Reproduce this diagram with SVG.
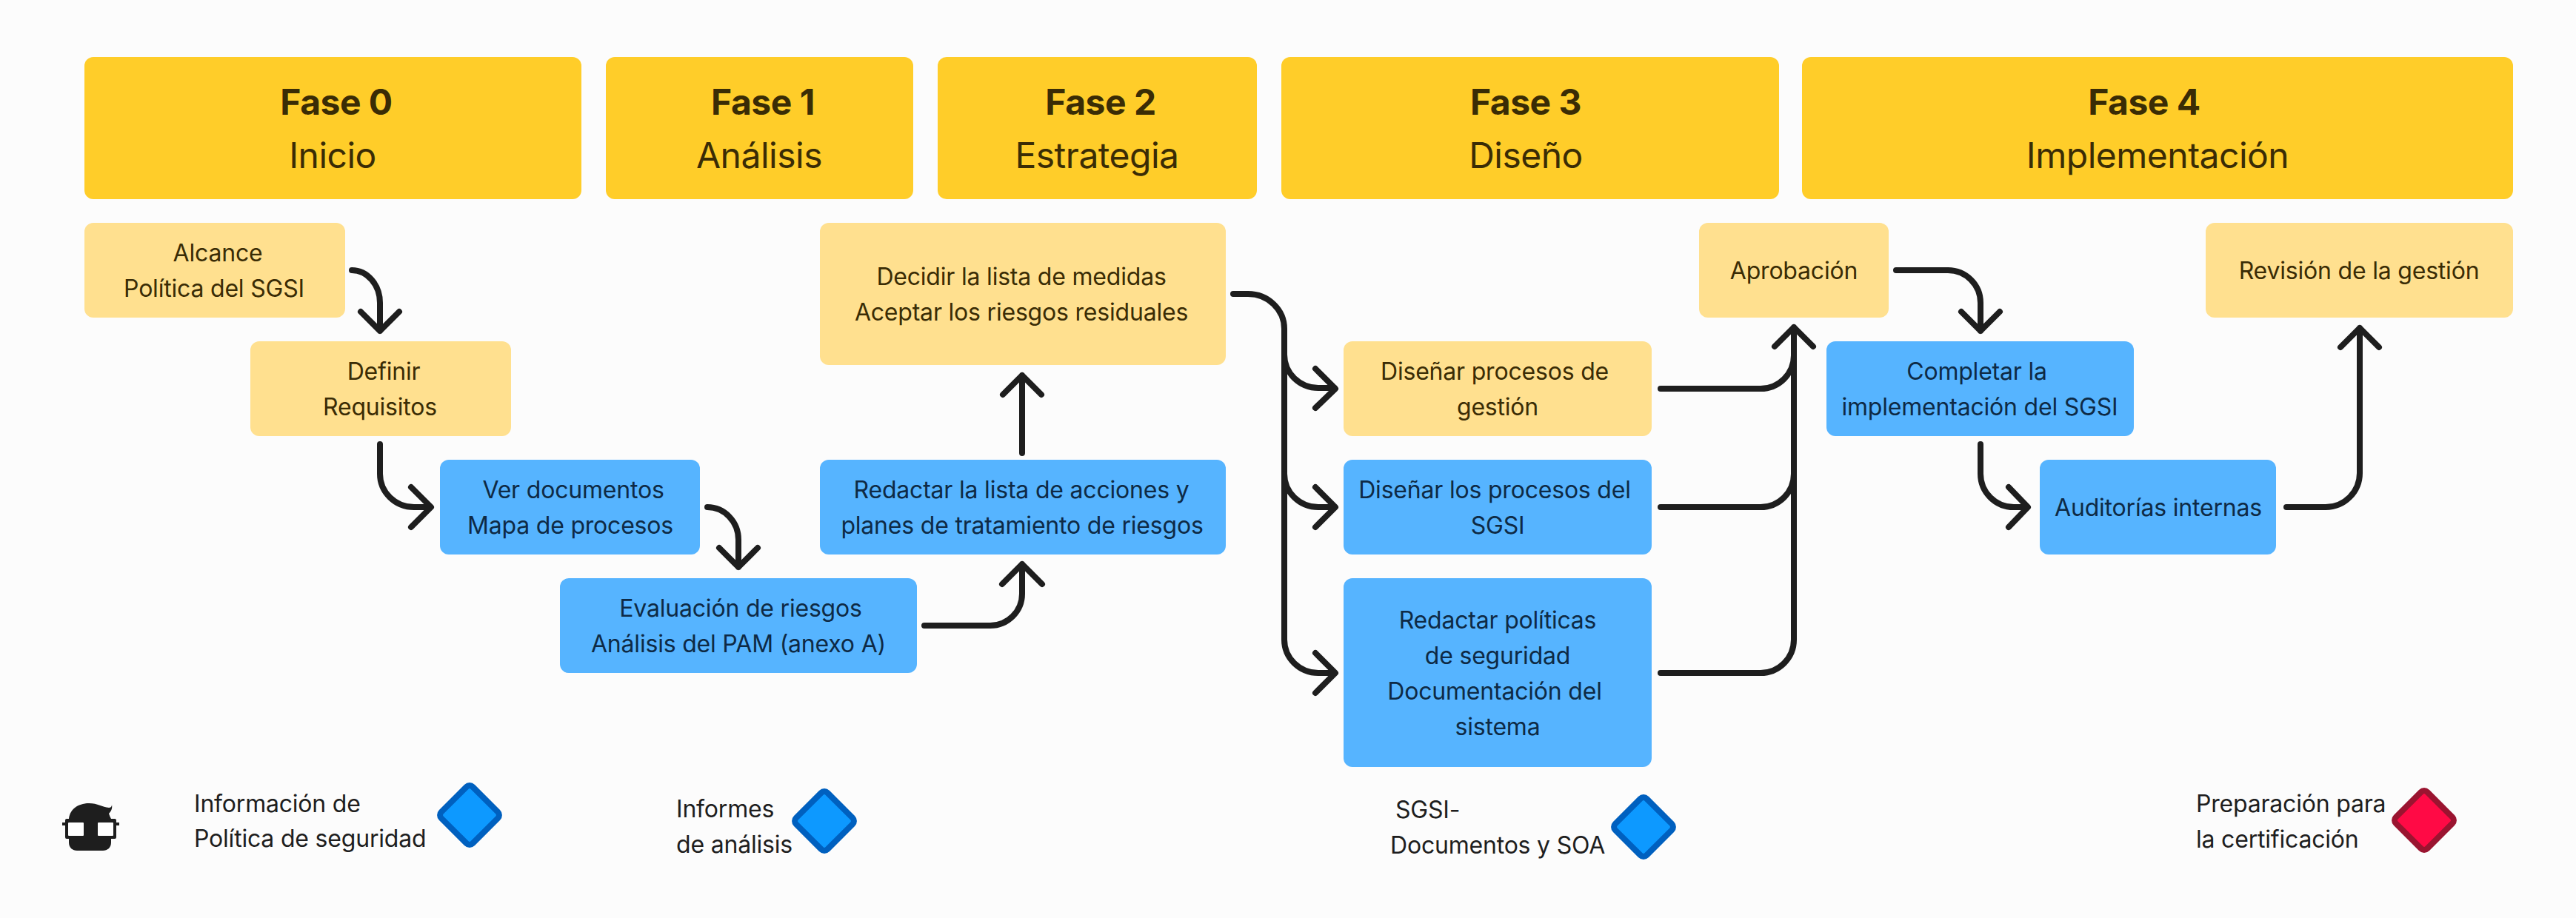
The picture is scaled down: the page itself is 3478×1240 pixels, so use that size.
<svg xmlns="http://www.w3.org/2000/svg" width="3478" height="1240" viewBox="0 0 3478 1240">
<style>
text{font-family:Inter,"Noto Sans","Liberation Sans",sans-serif}
.h{fill:#ffcd29}.y{fill:#ffe08f}.b{fill:#56b4ff}
.t1,.t2{font-size:48px;text-anchor:middle;fill:#3a2c05;letter-spacing:-.5px}.t1{font-weight:700}
.ty,.tb{font-size:32px;text-anchor:middle;letter-spacing:-.2px}.ty{fill:#3a2c05}.tb{fill:#0e2a45}
.l{font-size:32px;fill:#1e1e1e;letter-spacing:-.2px}
.c{fill:none;stroke:#1e1e1e;stroke-width:8;stroke-linecap:round;stroke-linejoin:round}
.db{fill:#0d99ff;stroke:#0060bf;stroke-width:8}.dr{fill:#ff0a45;stroke:#9a1430;stroke-width:8}
</style>
<defs><rect id="dia" x="-30" y="-30" width="60" height="60" rx="6" transform="rotate(45)"/></defs>
<rect width="3478" height="1240" fill="#fcfcfc"/>
<g id="fase0"><rect class="h" x="114" y="77" width="671" height="192" rx="12"/><text class="t1" x="454" y="155">Fase 0</text><text class="t2" x="449" y="227">Inicio</text></g>
<g id="fase1"><rect class="h" x="818" y="77" width="415" height="192" rx="12"/><text class="t1" x="1030" y="155">Fase 1</text><text class="t2" x="1025" y="227">Análisis</text></g>
<g id="fase2"><rect class="h" x="1266" y="77" width="431" height="192" rx="12"/><text class="t1" x="1486" y="155">Fase 2</text><text class="t2" x="1481" y="227">Estrategia</text></g>
<g id="fase3"><rect class="h" x="1730" y="77" width="672" height="192" rx="12"/><text class="t1" x="2060" y="155">Fase 3</text><text class="t2" x="2060" y="227">Diseño</text></g>
<g id="fase4"><rect class="h" x="2433" y="77" width="960" height="192" rx="12"/><text class="t1" x="2895" y="155">Fase 4</text><text class="t2" x="2913" y="227">Implementación</text></g>
<g id="alcance"><rect class="y" x="114" y="301" width="352" height="128" rx="12"/><text class="ty" x="294" y="353">Alcance</text><text class="ty" x="289" y="401">Política del SGSI</text></g>
<g id="definir"><rect class="y" x="338" y="461" width="352" height="128" rx="12"/><text class="ty" x="518" y="513">Definir</text><text class="ty" x="513" y="561">Requisitos</text></g>
<g id="ver"><rect class="b" x="594" y="621" width="351" height="128" rx="12"/><text class="tb" x="774" y="673">Ver documentos</text><text class="tb" x="770" y="721">Mapa de procesos</text></g>
<g id="evaluacion"><rect class="b" x="756" y="781" width="482" height="128" rx="12"/><text class="tb" x="1000" y="833">Evaluación de riesgos</text><text class="tb" x="997" y="881">Análisis del PAM (anexo A)</text></g>
<g id="redactar"><rect class="b" x="1107" y="621" width="548" height="128" rx="12"/><text class="tb" x="1379" y="673">Redactar la lista de acciones y</text><text class="tb" x="1380" y="721">planes de tratamiento de riesgos</text></g>
<g id="decidir"><rect class="y" x="1107" y="301" width="548" height="192" rx="12"/><text class="ty" x="1379" y="385">Decidir la lista de medidas</text><text class="ty" x="1379" y="433">Aceptar los riesgos residuales</text></g>
<g id="disenar1"><rect class="y" x="1814" y="461" width="416" height="128" rx="12"/><text class="ty" x="2018" y="513">Diseñar procesos de</text><text class="ty" x="2022" y="561">gestión</text></g>
<g id="disenar2"><rect class="b" x="1814" y="621" width="416" height="128" rx="12"/><text class="tb" x="2018" y="673">Diseñar los procesos del</text><text class="tb" x="2022" y="721">SGSI</text></g>
<g id="politicas"><rect class="b" x="1814" y="781" width="416" height="255" rx="12"/><text class="tb" x="2022" y="849">Redactar políticas</text><text class="tb" x="2022" y="897">de seguridad</text><text class="tb" x="2018" y="945">Documentación del</text><text class="tb" x="2022" y="993">sistema</text></g>
<g id="aprobacion"><rect class="y" x="2294" y="301" width="256" height="128" rx="12"/><text class="ty" x="2422" y="377">Aprobación</text></g>
<g id="completar"><rect class="b" x="2466" y="461" width="415" height="128" rx="12"/><text class="tb" x="2669" y="513">Completar la</text><text class="tb" x="2673" y="561">implementación del SGSI</text></g>
<g id="auditorias"><rect class="b" x="2754" y="621" width="319" height="128" rx="12"/><text class="tb" x="2914" y="697">Auditorías internas</text></g>
<g id="revision"><rect class="y" x="2978" y="301" width="415" height="128" rx="12"/><text class="ty" x="3185" y="377">Revisión de la gestión</text></g>
<g id="connectors">
<path class="c" d="M475 365A38 44 0 0 1 513 409V447M487 421L513 447L539 421"/>
<path class="c" d="M513 600V640A46 45 0 0 0 559 685H581M555 658L582 685L555 712"/>
<path class="c" d="M955 685A42 44 0 0 1 997 729V766M971 740L997 766L1023 740"/>
<path class="c" d="M1248 845H1337A43 43 0 0 0 1380 802V762M1353 789L1380 762L1407 789"/>
<path class="c" d="M1380 612V507M1354 533L1380 507L1406 533"/>
<path class="c" d="M1665 397H1685A49 47 0 0 1 1734 444V864A46 45 0 0 0 1780 909H1802M1776 882L1803 909L1776 936"/>
<path class="c" d="M1734 479A46 45 0 0 0 1780 524H1802M1776 498L1803 525L1776 551"/>
<path class="c" d="M1734 640A46 45 0 0 0 1780 685H1802M1776 658L1803 685L1776 712"/>
<path class="c" d="M2242 525H2377A45 45 0 0 0 2422 480M2242 685H2377A45 45 0 0 0 2422 640M2242 909H2377A45 45 0 0 0 2422 864V442M2396 468L2422 442L2448 468"/>
<path class="c" d="M2560 365H2630A44 44 0 0 1 2674 409V447M2648 421L2674 447L2700 421"/>
<path class="c" d="M2674 600V640A45 45 0 0 0 2719 685H2737M2712 658L2738 685L2712 712"/>
<path class="c" d="M3087 685H3140A46 46 0 0 0 3186 639V443M3160 469L3186 443L3212 469"/>
</g>
<g id="legend1"><text class="l" x="262" y="1097">Información de</text><text class="l" x="262" y="1144">Política de seguridad</text><use href="#dia" class="db" x="634" y="1101"/></g>
<g id="legend2"><text class="l" x="913" y="1104">Informes</text><text class="l" x="913" y="1152">de análisis</text><use href="#dia" class="db" x="1113" y="1109"/></g>
<g id="legend3"><text class="l" x="1884" y="1105">SGSI-</text><text class="l" x="1877" y="1153">Documentos y SOA</text><use href="#dia" class="db" x="2219" y="1117"/></g>
<g id="legend4"><text class="l" x="2965" y="1097">Preparación para</text><text class="l" x="2965" y="1145">la certificación</text><use href="#dia" class="dr" x="3273" y="1108"/></g>
<g id="logo">
<path fill="#1e1e1e" d="M93 1108C93 1094 105 1085 120 1085C132 1085 138 1090 147 1091C150 1091 151 1089 151 1087C152 1092 150 1096 147 1099C148 1102 149 1104 150 1106V1138C150 1145 145 1149 139 1149H104C98 1149 93 1145 93 1138Z"/>
<path fill="#1e1e1e" d="M88 1108Q88 1106 90 1106H155Q157 1106 157 1108V1111H161V1115H157V1131Q157 1133 155 1133H90Q88 1133 88 1131V1115H84V1111H88Z"/>
<rect x="92" y="1111" width="21" height="18" rx="1" fill="#fff"/><rect x="132" y="1111" width="21" height="18" rx="1" fill="#fff"/>
</g>
</svg>
